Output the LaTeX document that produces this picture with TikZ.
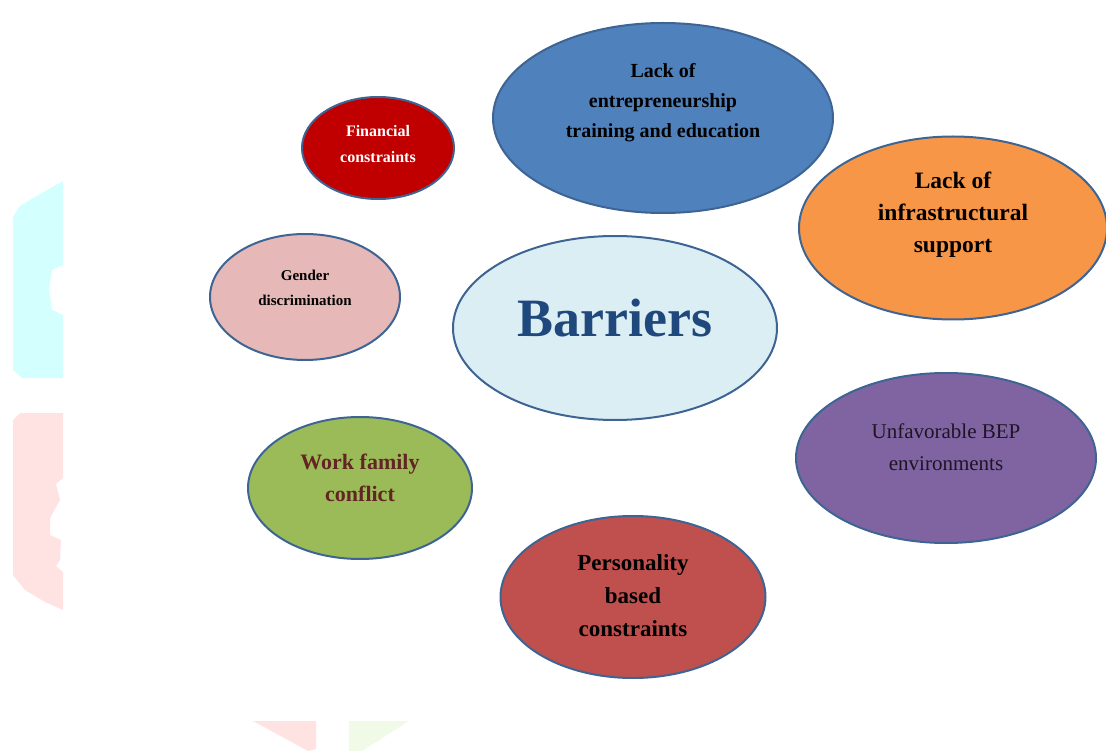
\documentclass[tikz,border=0pt]{standalone}
\usepackage{fontspec}
\setmainfont{Liberation Serif}
\usepackage{tikz}
\usetikzlibrary{shapes.geometric,positioning}
\definecolor{rim}{HTML}{3E6494}
\definecolor{ctrfill}{HTML}{DBEEF3}
\definecolor{ctrtext}{HTML}{1F497D}
\definecolor{bluefill}{HTML}{4F81BD}
\definecolor{redfill}{HTML}{C00000}
\definecolor{pinkfill}{HTML}{E6B9B8}
\definecolor{orangefill}{HTML}{F79646}
\definecolor{purplefill}{HTML}{8064A2}
\definecolor{brickfill}{HTML}{C0504D}
\definecolor{greenfill}{HTML}{9BBB59}
\definecolor{maroon}{HTML}{632523}
\definecolor{bepink}{HTML}{1E1424}
\definecolor{wmcyan}{HTML}{D4FFFF}
\definecolor{wmpink}{HTML}{FFE3E3}
\definecolor{wmgreen}{HTML}{F0FAE6}
\tikzset{
  blob/.style={ellipse,draw=rim,line width=2pt,inner sep=0pt},
  caption/.style={align=center,inner sep=0pt,font=\bfseries}
}
\newcommand{\fsz}[2]{\fontsize{#1}{#2}\selectfont}

\begin{document}
\begin{tikzpicture}[x=1pt,y=-1pt]
  \useasboundingbox (0,0) rectangle (1106,751);
  % faint background marks
  \fill[wmcyan] (63,181)--(63,265)--(52,270)--(49,290)--(52,310)--(63,315)--(63,378)
    --(22,378)--(13,370)--(13,217)--(20,206)--(40,194)--cycle;
  \fill[wmpink] (63,413)--(63,478)--(56,484)--(60,500)--(50,518)--(50,535)--(61,540)
    --(60,560)--(56,566)--(63,572)--(63,610)--(45,602)--(25,590)--(13,575)
    --(13,420)--(20,413)--cycle;
  \fill[wmpink] (253,721)--(316,721)--(316,749)--(308,751)--cycle;
  \fill[wmgreen] (349,721)--(409,721)--(362,751)--(349,751)--cycle;

  % the ellipses
  \node[blob,fill=ctrfill,minimum width=324,minimum height=184] (barriers) at (615,328) {};
  \node[blob,fill=bluefill,minimum width=340,minimum height=190] (training) at (663,118) {};
  \node[blob,fill=redfill,minimum width=152,minimum height=102] (finance) at (378,148) {};
  \node[blob,fill=pinkfill,minimum width=190,minimum height=126] (gender) at (305,297) {};
  \node[blob,fill=orangefill,minimum width=308,minimum height=183] (infra) at (953,228) {};
  \node[blob,fill=purplefill,minimum width=300,minimum height=170] (bep) at (946,458) {};
  \node[blob,fill=brickfill,minimum width=265,minimum height=162] (personal) at (633,597) {};
  \node[blob,fill=greenfill,minimum width=224,minimum height=142] (work) at (360,488) {};

  % texts
  \node[caption,text=ctrtext,font=\bfseries\fsz{54}{60}] (barriersT) at ([yshift=10pt]barriers) {Barriers};
  \node[caption,font=\bfseries\fsz{20}{30}] (trainingT) at ([yshift=15pt]training)
    {Lack of\\entrepreneurship\\training and education};
  \node[caption,text=white,font=\bfseries\fsz{16}{26}] (financeT) at ([yshift=4pt]finance)
    {Financial\\constraints};
  \node[caption,font=\bfseries\fsz{15}{25}] (genderT) at ([yshift=9pt]gender)
    {Gender\\discrimination};
  \node[caption,font=\bfseries\fsz{23.5}{32}] (infraT) at ([yshift=13pt]infra)
    {Lack of\\infrastructural\\support};
  \node[caption,text=bepink,font=\fsz{21}{32}] (bepT) at ([yshift=11pt]bep)
    {Unfavorable BEP\\environments};
  \node[caption,font=\bfseries\fsz{23}{33}] (personalT) at ([yshift=1pt]personal)
    {Personality\\based\\constraints};
  \node[caption,text=maroon,font=\bfseries\fsz{22}{32}] (workT) at ([yshift=10pt]work)
    {Work family\\conflict};
\end{tikzpicture}
\end{document}
